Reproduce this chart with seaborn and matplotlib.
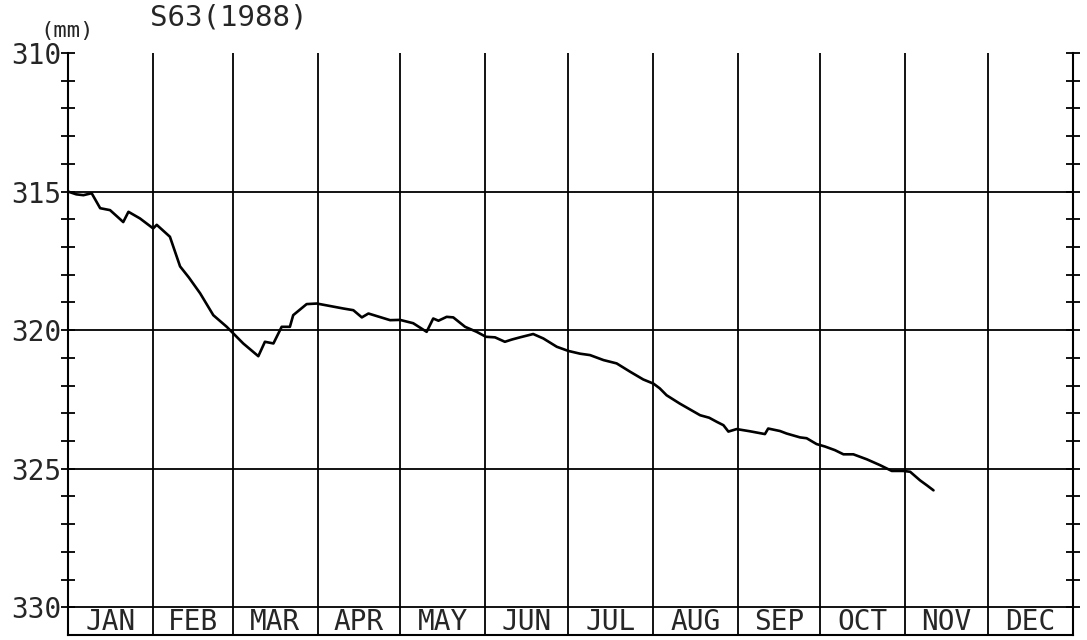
import matplotlib
matplotlib.use("Agg")
import matplotlib.pyplot as plt
import seaborn as sns
import pandas as pd

# --- data (day of year 1988, depth in mm) ---
days = [0, 3, 5.6, 8.6, 11.7, 15.3, 19, 20.1, 22, 26.2, 31, 32.3, 37.1, 40.8, 44,
        48.1, 52.9, 57.8, 60.2, 63.8, 69.3, 71.7, 74.8, 77.8, 80.8, 82, 86.9, 90.6,
        100.3, 103.9, 107, 109.4, 117.3, 120.9, 125.7, 130.6, 133, 134.9, 137.9,
        140.3, 144.6, 148.8, 152.2, 155.5, 159.1, 161.6, 164.6, 169.4, 173.1, 178,
        182.2, 186.5, 190.1, 195, 199.8, 204.7, 209.5, 213.2, 215.5, 218, 222.8,
        226.5, 230.2, 233.5, 236.3, 238.7, 240.5, 243.5, 248.4, 253.8, 255, 259.3,
        261.7, 266.6, 269, 272.6, 275.7, 279.3, 282.4, 286, 290.9, 295.7, 300,
        304.2, 306.7, 310.3, 312.8, 315.2]
depth = [315.0, 315.1, 315.13, 315.06, 315.6, 315.67, 316.0, 316.1, 315.73, 315.97,
         316.33, 316.2, 316.63, 317.7, 318.1, 318.67, 319.46, 319.88, 320.12, 320.48,
         320.94, 320.42, 320.48, 319.88, 319.88, 319.46, 319.06, 319.04, 319.22,
         319.28, 319.54, 319.4, 319.64, 319.63, 319.75, 320.06, 319.58, 319.66,
         319.52, 319.54, 319.88, 320.06, 320.24, 320.26, 320.42, 320.34, 320.26,
         320.14, 320.30, 320.6, 320.75, 320.85, 320.9, 321.08, 321.2, 321.5, 321.78,
         321.93, 322.1, 322.35, 322.65, 322.86, 323.07, 323.16, 323.31, 323.43,
         323.66, 323.57, 323.65, 323.75, 323.55, 323.64, 323.73, 323.87, 323.9,
         324.11, 324.2, 324.33, 324.48, 324.48, 324.66, 324.87, 325.08, 325.08,
         325.11, 325.42, 325.6, 325.78]

months = ["JAN", "FEB", "MAR", "APR", "MAY", "JUN", "JUL", "AUG", "SEP", "OCT", "NOV", "DEC"]
month_edges = [0, 31, 60, 91, 121, 152, 182, 213, 244, 274, 305, 335, 366]
major_ticks = [310, 315, 320, 325, 330]
minor_ticks = [v for v in range(311, 330) if v % 5 != 0]

df = pd.DataFrame({"day": days, "depth": depth})

sns.set_style("white")
plt.rcParams["font.family"] = ["DejaVu Sans Mono", "DejaVu Sans"]

fig = plt.figure(figsize=(10.87, 6.40), dpi=100)
ax = fig.add_axes([0.0626, 0.0078, 0.9245, 0.9094])

# grid: month boundaries and every 5 mm
for e in month_edges[1:-1]:
    ax.axvline(e, color="black", lw=1.3, zorder=1)
for v in major_ticks[1:]:
    ax.axhline(v, color="black", lw=1.3, zorder=1)

sns.lineplot(data=df, x="day", y="depth", color="black", lw=1.9,
             sort=False, estimator=None, ax=ax, zorder=3)

# month names in the strip under 330
for i, m in enumerate(months):
    mid = (month_edges[i] + month_edges[i + 1]) / 2
    ax.text(mid, 330.52, m, ha="center", va="center", fontsize=20)

ax.set_xlim(0, 366)
ax.set_ylim(331, 310)
ax.set_xticks([])
ax.set_yticks(major_ticks)
ax.set_yticklabels([str(v) for v in major_ticks], fontsize=20)
ax.set_yticks(minor_ticks, minor=True)
ax.tick_params(axis="y", which="both", direction="inout", length=10, width=1.3,
               right=True, left=True, color="black", pad=0)
ax.set_xlabel("")
ax.set_ylabel("")

ax.spines["top"].set_visible(False)
for s in ["left", "right", "bottom"]:
    ax.spines[s].set_color("black")
    ax.spines[s].set_linewidth(1.5)

fig.text(0.062, 0.952, "(mm)", ha="center", va="center", fontsize=16)
fig.text(0.138, 0.973, "S63(1988)", ha="left", va="center", fontsize=21)

fig.savefig("out.png", dpi=100)
plt.close(fig)
